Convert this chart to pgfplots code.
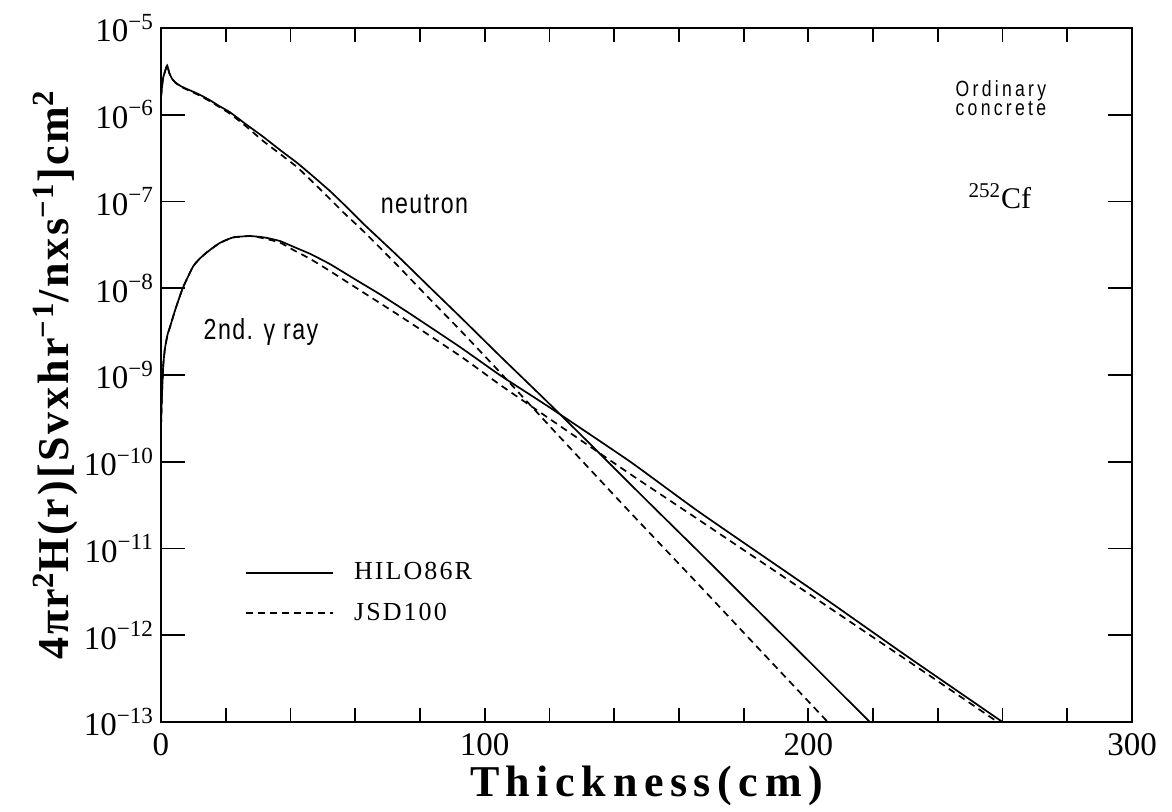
\documentclass[border=0pt]{standalone}
\usepackage{fontspec}
\setmainfont{Liberation Serif}
\newfontfamily\narrowsans[FakeStretch=0.8]{Liberation Sans}
\usepackage{pgfplots}
\pgfplotsset{compat=1.18}

% Dose-equivalent rate behind ordinary concrete, 252Cf source
\pgfplotstableread{
x y
0     1.6e-6
0.6   2.6e-6
1.3   3.2e-6
1.9   3.7e-6
2.6   3.0e-6
3.4   2.6e-6
4.5   2.35e-6
6     2.15e-6
8     1.98e-6
10    1.84e-6
12    1.7e-6
15    1.48e-6
18    1.26e-6
21.3  1.07e-6
26    7.9e-7
31.5  5.6e-7
36.5  4.0e-7
42    2.8e-7
47    1.95e-7
52.2  1.32e-7
57    8.9e-8
62.4  5.6e-8
72.9  2.4e-8
83.1  1.02e-8
92.4  4.7e-9
105   1.62e-9
118   5.5e-10
129.4 2.1e-10
150   3.6e-11
166.5 8.9e-12
181   2.57e-12
200   5.1e-13
219   1.0e-13
}\neutronHILO

\pgfplotstableread{
x y
0     1.6e-6
0.6   2.6e-6
1.3   3.2e-6
1.9   3.7e-6
2.6   3.0e-6
3.4   2.6e-6
4.5   2.33e-6
6     2.12e-6
8     1.95e-6
10    1.8e-6
12    1.66e-6
15    1.44e-6
18    1.23e-6
21.3  1.03e-6
26    7.5e-7
31.5  5.0e-7
36.5  3.6e-7
42    2.5e-7
47    1.66e-7
52.2  1.07e-7
57    7.1e-8
62.4  4.6e-8
72.9  1.86e-8
82.2  8.1e-9
92.4  3.3e-9
103.8 1.17e-9
122.3 2.1e-10
145   2.6e-11
166.5 3.7e-12
185   6.8e-13
206   1.0e-13
}\neutronJSD

\pgfplotstableread{
x y
0     2.5e-10
0.3   6.0e-10
0.7   1.3e-9
1.2   2.0e-9
2     2.9e-9
2.8   3.6e-9
4.5   5.8e-9
6.8   1.02e-8
9.9   1.78e-8
12    2.2e-8
14.2  2.6e-8
18    3.3e-8
22.2  3.85e-8
27.5  4.0e-8
32    3.85e-8
36.8  3.5e-8
41    3.0e-8
46    2.5e-8
52.2  1.9e-8
61.5  1.17e-8
67.7  8.5e-9
76.9  5.1e-9
92.4  2.1e-9
105   9.8e-10
120.2 4.2e-10
145   1.0e-10
166.5 2.6e-11
204.5 2.75e-12
230   5.9e-13
260   1.0e-13
}\gammaHILO

\pgfplotstableread{
x y
0     2.5e-10
0.3   6.0e-10
0.7   1.3e-9
1.2   2.0e-9
2     2.9e-9
2.8   3.6e-9
4.5   5.8e-9
6.8   1.02e-8
9.9   1.78e-8
12    2.2e-8
14.2  2.6e-8
18    3.3e-8
22.2  3.85e-8
27.5  4.0e-8
32    3.75e-8
36.8  3.35e-8
41    2.75e-8
46    2.19e-8
52.2  1.58e-8
62.4  9.0e-9
73.8  4.8e-9
92.4  1.66e-9
105   7.6e-10
120.2 3.1e-10
145   7.2e-11
166.5 2.1e-11
199.6 3.1e-12
230   5.3e-13
258.5 1.0e-13
}\gammaJSD

\begin{document}
\begin{tikzpicture}
\begin{axis}[
  name=ax,
  scale only axis,
  width=485.5pt, height=347pt,
  xmin=0, xmax=300,
  ymode=log, ymin=1e-13, ymax=1e-5,
  axis line style={line width=1.2pt},
  tick align=inside,
  xtick={0,100,200,300},
  xticklabels={0,100,200,300},
  minor xtick={20,40,60,80,120,140,160,180,220,240,260,280},
  ytick={1e-13,1e-12,1e-11,1e-10,1e-9,1e-8,1e-7,1e-6,1e-5},
  yticklabels={10\textsuperscript{−13},10\textsuperscript{−12},10\textsuperscript{−11},
    10\textsuperscript{−10},10\textsuperscript{−9},10\textsuperscript{−8},
    10\textsuperscript{−7},10\textsuperscript{−6},10\textsuperscript{−5}},
  yminorticks=false,
  xtick style={line width=0.9pt, black, /pgfplots/major tick length=7pt, /pgfplots/minor tick length=7pt},
  ytick style={line width=0.9pt, black, /pgfplots/major tick length=12pt},
  tick label style={font=\fontsize{16.5}{18}\selectfont},
  xticklabel style={yshift=-2pt},
  xlabel={\addfontfeature{LetterSpace=15}Thickness(cm)},
  xlabel style={font=\fontsize{22}{24}\selectfont\bfseries,
    at={(axis description cs:0.5,-0.108)}, anchor=base},
  ylabel={\addfontfeature{LetterSpace=6}4πr\textsuperscript{2}H(r)[Svxhr\textsuperscript{−1}/nxs\textsuperscript{−1}]cm\textsuperscript{2}},
  ylabel style={font=\fontsize{22}{24}\selectfont\bfseries,
    at={(axis description cs:-0.109,0.5)}, anchor=center},
  legend style={draw=none, fill=none, at={(axis description cs:0.0865,0.236)},
    anchor=north west, inner sep=0pt, row sep=6pt, column sep=8pt,
    font=\fontsize{13}{14}\selectfont\addfontfeature{LetterSpace=8}},
  legend cell align=left,
  legend image code/.code={\draw[#1] (0pt,0pt) -- (43.5pt,0pt);},
]
\addplot[black, line width=0.85pt, smooth, tension=0.3] table {\neutronHILO};
\addlegendentry{HILO86R}
\addplot[black, line width=0.85pt, smooth, tension=0.3, dash pattern=on 3.5pt off 2.5pt] table {\neutronJSD};
\addlegendentry{JSD100}
\addplot[black, line width=0.85pt, smooth, tension=0.3, forget plot] table {\gammaHILO};
\addplot[black, line width=0.85pt, smooth, tension=0.3, dash pattern=on 3.5pt off 2.5pt, forget plot] table {\gammaJSD};

\node[font=\narrowsans\fontsize{14.5}{16}\selectfont\addfontfeature{LetterSpace=5}]
  at (axis cs:81.4,9.3e-8) {neutron};
\node[font=\narrowsans\fontsize{14.5}{16}\selectfont\addfontfeature{LetterSpace=5}]
  at (axis cs:30.9,3.1e-9) {2nd. γ ray};
\node[font=\narrowsans\fontsize{11}{9.5}\selectfont\addfontfeature{LetterSpace=15}, align=center, inner sep=0pt]
  at (axis cs:259.5,1.55e-6) {Ordinary\\concrete};
\node[font=\fontsize{15}{16}\selectfont] at (axis cs:259.2,1.15e-7) {\textsuperscript{252}Cf};
\end{axis}
\pgfresetboundingbox
\path ([shift={(-80.5pt,-45pt)}]ax.south west) rectangle ([shift={(20pt,14pt)}]ax.north east);
\end{tikzpicture}
\end{document}
